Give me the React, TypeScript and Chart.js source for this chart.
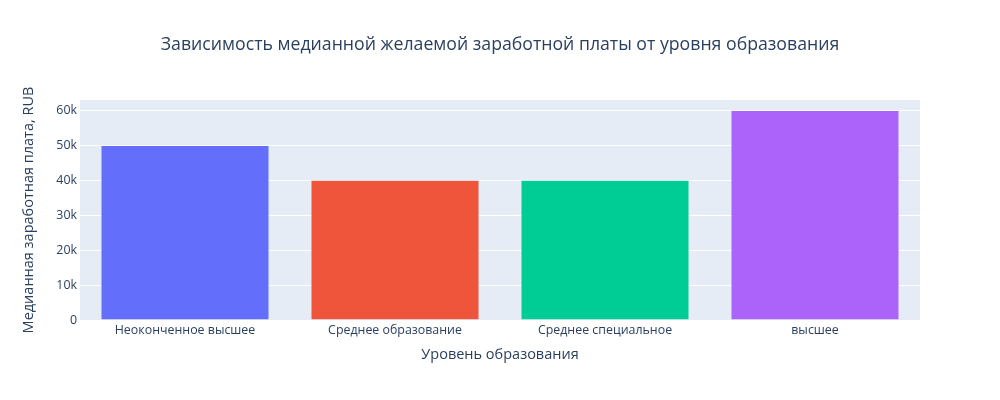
import React, { useEffect, useRef } from "react";
import { Chart, registerables } from "chart.js";

Chart.register(...registerables);

const categories = ["Неоконченное высшее", "Среднее образование", "Среднее специальное", "высшее"];
const values = [50000, 40000, 40000, 60000];
const barColors = ["#636efa", "#EF553B", "#00cc96", "#ab63fa"];
const yTicks = [0, 10000, 20000, 30000, 40000, 50000, 60000];

const chartTitle = "Зависимость медианной желаемой заработной платы от уровня образования";
const xTitle = "Уровень образования";
const yTitle = "Медианная заработная плата, RUB";

const FONT = "'Open Sans', verdana, arial, sans-serif";
const TXT = "#2a3f5f";

const bgPlugin = {
  id: "plotBg",
  beforeDraw(chart: any) {
    const { ctx, chartArea } = chart;
    ctx.save();
    ctx.fillStyle = "#E5ECF6";
    ctx.fillRect(chartArea.left, chartArea.top, chartArea.right - chartArea.left, chartArea.bottom - chartArea.top);
    ctx.restore();
  },
};

const titlePlugin = {
  id: "pageTitle",
  afterDraw(chart: any) {
    const { ctx, width } = chart;
    ctx.save();
    ctx.fillStyle = TXT;
    ctx.font = `17.7px ${FONT}`;
    ctx.textAlign = "center";
    ctx.textBaseline = "middle";
    ctx.fillText(chartTitle, width / 2, 45);
    ctx.restore();
  },
};

export default function App() {
  const ref = useRef<HTMLCanvasElement>(null);
  useEffect(() => {
    if (!ref.current) return;
    const chart = new Chart(ref.current, {
      type: "bar",
      data: {
        labels: categories,
        datasets: [
          {
            data: values,
            backgroundColor: barColors,
            borderColor: "#E5ECF6",
            borderWidth: 0.5,
            categoryPercentage: 0.8,
            barPercentage: 1,
          },
        ],
      },
      options: {
        responsive: false,
        animation: false,
        layout: { padding: { left: 0, right: 80, top: 100, bottom: 0 } },
        plugins: {
          legend: { display: false },
          tooltip: { enabled: false },
          title: { display: false },
        },
        scales: {
          x: {
            grid: { display: false, drawTicks: false },
            border: { display: false },
            ticks: { color: TXT, font: { family: FONT, size: 12.4 }, padding: 3, maxRotation: 0 },
            title: {
              display: true,
              text: xTitle,
              color: TXT,
              font: { family: FONT, size: 14.5, lineHeight: 1.2 },
              padding: { top: 0, bottom: 36.3 },
            },
            afterFit(scale: any) {
              scale.height = 80;
            },
          },
          y: {
            min: 0,
            max: 63000,
            grid: { color: "#ffffff", lineWidth: 1, drawTicks: false },
            border: { display: false },
            ticks: {
              color: TXT,
              font: { family: FONT, size: 12.4 },
              padding: 3,
              stepSize: 10000,
              callback: (v: any) => (Number(v) === 0 ? "0" : Number(v) / 1000 + "k"),
            },
            afterBuildTicks(axis: any) {
              axis.ticks = yTicks.map((v) => ({ value: v }));
            },
            title: {
              display: true,
              text: yTitle,
              color: TXT,
              font: { family: FONT, size: 14.5, lineHeight: 1.2 },
              padding: { top: 20, bottom: 0 },
            },
            afterFit(scale: any) {
              scale.width = 80;
            },
          },
        },
      },
      plugins: [bgPlugin, titlePlugin],
    });
    return () => chart.destroy();
  }, []);
  return (
    <div style={{ position: "absolute", left: 0, top: 0, width: 1000, height: 400, background: "#fff" }}>
      <canvas ref={ref} width={1000} height={400} />
    </div>
  );
}
